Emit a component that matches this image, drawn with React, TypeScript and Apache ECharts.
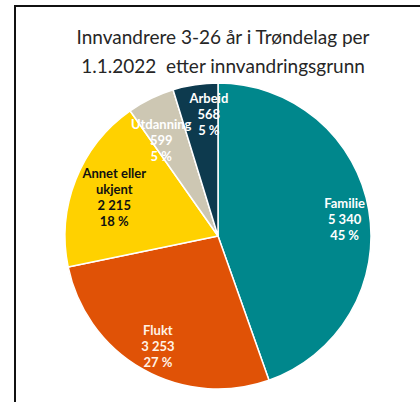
import React, { useEffect, useRef } from "react";
import * as echarts from "echarts";

const categories = ["Familie", "Flukt", "Annet eller\nukjent", "Utdanning", "Arbeid"];
const values = [5340, 3253, 2215, 599, 568];
const colors = ["#00878C", "#E05206", "#FFD100", "#CDC7B3", "#0D3A4E"];
const labelColors = ["#FFFFFF", "#FFF3E6", "#111111", "#FFFFFF", "#FFFFFF"];
const labelOffsets = [[6, 4], [0, 3], [10, 6], [-3, 14], [9, -1]];
const titleLines = ["Innvandrere 3-26 år i Trøndelag per", "1.1.2022  etter innvandringsgrunn"];

const fmt = (n: number) => String(n).replace(/\B(?=(\d{3})+(?!\d))/g, " ");

export default function App() {
  const ref = useRef<HTMLDivElement>(null);
  useEffect(() => {
    if (!ref.current) return;
    const chart = echarts.init(ref.current, undefined, { renderer: "svg" });
    const total = values.reduce((a, b) => a + b, 0);
    const center = [218, 236];
    const R = 153;
    chart.setOption({
      animation: false,
      backgroundColor: "#FFFFFF",
      title: {
        text: titleLines.join("\n"),
        left: 218,
        top: 17,
        textAlign: "center",
        textStyle: {
          fontFamily: "Lato",
          fontWeight: "normal",
          fontSize: 19,
          lineHeight: 29,
          color: "#262626",
        },
      },
      graphic: [
        { type: "line", shape: { x1: 15, y1: 6, x2: 15, y2: 402 }, style: { stroke: "#111", lineWidth: 2 } },
        { type: "line", shape: { x1: 14, y1: 6, x2: 420, y2: 6 }, style: { stroke: "#111", lineWidth: 2 } },
      ],
      series: [
        {
          type: "pie",
          center,
          radius: [0, R],
          startAngle: 90,
          clockwise: true,
          silent: true,
          label: { show: false },
          labelLine: { show: false },
          itemStyle: { borderColor: "#FFFFFF", borderWidth: 1.5 },
          data: values.map((v, i) => ({ value: v, name: categories[i], itemStyle: { color: colors[i] } })),
        },
        {
          type: "pie",
          center,
          radius: [R * 0.56, R],
          startAngle: 90,
          clockwise: true,
          silent: true,
          z: 3,
          avoidLabelOverlap: false,
          labelLayout: { hideOverlap: false },
          labelLine: { show: false },
          itemStyle: { color: "transparent", borderWidth: 0 },
          data: values.map((v, i) => ({
            value: v,
            name: categories[i],
            label: {
              show: true,
              position: "inside",
              offset: labelOffsets[i],
              formatter: `${categories[i]}\n${fmt(v)}\n${Math.round((v / total) * 100)} %`,
              color: labelColors[i],
              fontFamily: "Lato",
              fontWeight: "bold",
              fontSize: 13,
              lineHeight: 16,
              align: "center",
            },
          })),
        },
      ],
    });
    return () => chart.dispose();
  }, []);
  return (
    <div
      ref={ref}
      style={{ position: "absolute", left: 0, top: 0, width: 420, height: 402 }}
    />
  );
}
